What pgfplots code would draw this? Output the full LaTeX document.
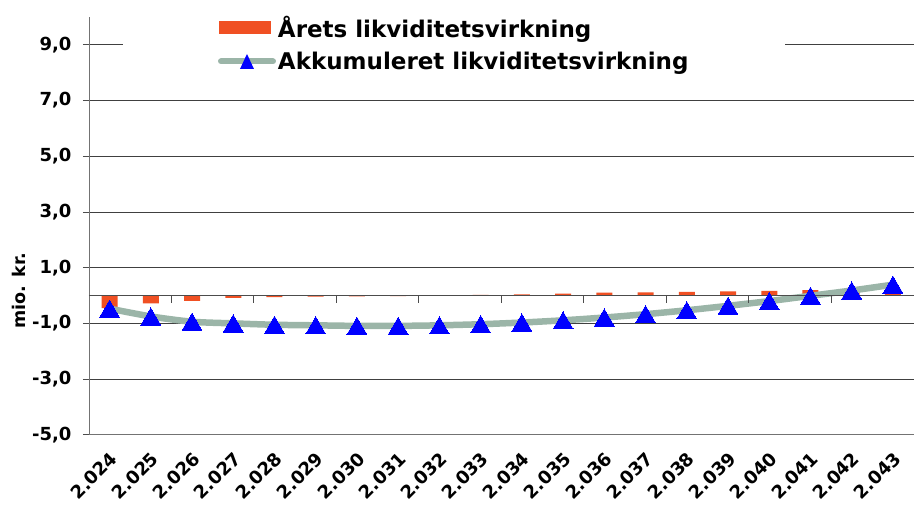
\documentclass[border=0pt]{standalone}
\usepackage{fontspec}
\setmainfont{DejaVu Sans}
\usepackage{pgfplots}
\pgfplotsset{compat=1.18}
\definecolor{barcol}{RGB}{240,80,35}
\definecolor{linecol}{RGB}{155,181,168}
\definecolor{mkcol}{RGB}{0,0,255}
\pgfplotsset{
  barlegend/.style={legend image code/.code={\path[fill=barcol, draw=none] (0pt,-6.5pt) rectangle (52pt,6.5pt);}},
  linelegend/.style={legend image code/.code={
    \draw[linecol, line width=6pt, line cap=round] (2pt,0pt) -- (54pt,0pt);
    \path[fill=mkcol, draw=none] (28pt,7.5pt) -- (21pt,-7.5pt) -- (35pt,-7.5pt) -- cycle;}},
}
\begin{document}
\begin{tikzpicture}
\begin{axis}[
  width=825pt, height=418pt, scale only axis,
  xmin=-0.5, xmax=19.5, ymin=-5, ymax=10,
  axis x line*=bottom, axis y line*=left,
  axis line style={black!55, line width=0.9pt},
  xtick={0,...,19},
  xticklabels={2.024,2.025,2.026,2.027,2.028,2.029,2.030,2.031,2.032,2.033,2.034,2.035,2.036,2.037,2.038,2.039,2.040,2.041,2.042,2.043},
  x tick label style={xshift=-0.5pt, yshift=-5pt, rotate=45, anchor=north east, font=\fontsize{18}{20}\selectfont\bfseries},
  major x tick style={draw=none},
  ytick={-5,-3,...,9},
  yticklabels={{-5,0},{-3,0},{-1,0},{1,0},{3,0},{5,0},{7,0},{9,0}},
  y tick label style={font=\fontsize{18}{20}\selectfont\bfseries, xshift=-8pt},
  tick align=outside, major tick length=6pt,
  major y tick style={black!70, line width=0.8pt},
  ymajorgrids, grid style={black!75, line width=0.8pt},
  ylabel={mio. kr.},
  ylabel style={at={(rel axis cs:-0.085,0.345)}, anchor=center, font=\fontsize{17.5}{20}\selectfont\bfseries},
  clip=false,
  legend cell align=left,
  legend style={at={(rel axis cs:0.443,1.012)}, anchor=north, draw=none, fill=white,
    inner xsep=95pt, inner ysep=2pt, row sep=9pt,
    font=\fontsize{23}{27}\selectfont\bfseries},
]
\addplot[ybar, bar width=16pt, fill=barcol, draw=none, barlegend]
  coordinates {(0,-0.45) (1,-0.28) (2,-0.19) (3,-0.08) (4,-0.06) (5,-0.04) (6,-0.03) (7,-0.02) (8,0.01) (9,0.02)
    (10,0.04) (11,0.07) (12,0.10) (13,0.11) (14,0.13) (15,0.15) (16,0.17) (17,0.19) (18,0.20) (19,0.21)};
\addlegendentry{Årets likviditetsvirkning}
\addplot[linecol, line width=6.5pt, smooth, tension=0.5, mark=triangle*,
  mark size=11.5pt, mark options={draw=mkcol, fill=mkcol, line width=0pt, yshift=-2.9pt}, linelegend]
  coordinates {(0,-0.47) (1,-0.75) (2,-0.94) (3,-1.0) (4,-1.05) (5,-1.07) (6,-1.09) (7,-1.09) (8,-1.07) (9,-1.03)
    (10,-0.97) (11,-0.89) (12,-0.79) (13,-0.67) (14,-0.53) (15,-0.37) (16,-0.2) (17,-0.01) (18,0.18) (19,0.39)};
\addlegendentry{Akkumuleret likviditetsvirkning}
\draw[black!70, line width=0.8pt] (axis cs:-0.5,0) -- (axis cs:19.5,0);
\pgfplotsinvokeforeach{1.5,3.5,...,17.5}{
  \draw[black!70, line width=0.8pt] (axis cs:#1,0) -- ([yshift=-7pt]axis cs:#1,0);
}
\path ([xshift=-89pt, yshift=17pt]rel axis cs:0,1);
\end{axis}
\end{tikzpicture}
\end{document}
